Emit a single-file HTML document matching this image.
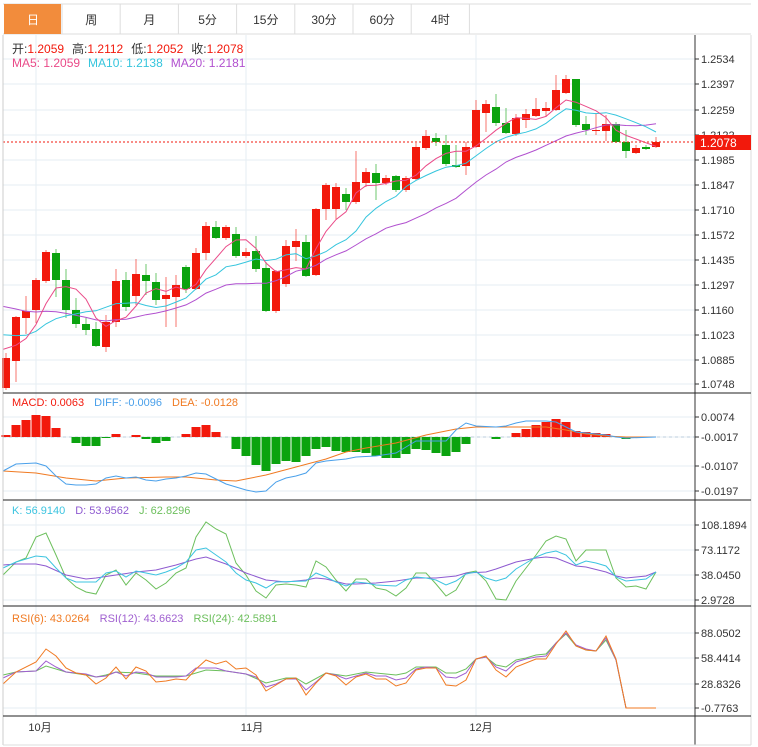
<!DOCTYPE html>
<html><head><meta charset="utf-8">
<style>
body{margin:0;background:#fff;font-family:"Liberation Sans","Noto Sans CJK SC",sans-serif;}
#c{position:absolute;left:0;top:0;}
</style></head><body>
<svg id="c" width="758" height="747" xmlns="http://www.w3.org/2000/svg" font-family="Liberation Sans, Noto Sans CJK SC, sans-serif"></svg>
<script>
const D=[[6,'r',358,388,353,390],[16,'r',317,361,316,382],[26,'r',311,318,296,334],[36,'r',280,310,278,323],[46,'r',252,281,250,283],[56,'g',253,280,249,297],[66,'g',280,310,269,318],[76,'g',310,324,298,328],[86,'g',324,330,318,335],[96,'g',329,346,322,347],[106,'r',322,347,315,352],[116,'r',281,322,269,327],[126,'g',280,307,272,311],[136,'r',274,296,259,305],[146,'g',275,281,264,295],[156,'g',282,300,273,305],[166,'r',295,299,277,327],[176,'r',285,297,275,327],[186,'g',267,289,265,293],[196,'r',253,289,248,290],[206,'r',226,253,222,260],[216,'g',227,238,221,239],[226,'r',227,238,225,240],[236,'g',234,256,227,258],[246,'r',252,256,248,258],[256,'g',251,269,236,272],[266,'g',268,311,262,312],[276,'r',271,311,270,313],[286,'r',246,284,240,287],[296,'r',241,247,229,261],[306,'g',242,276,235,277],[316,'r',209,275,208,276],[326,'r',185,209,183,220],[336,'r',187,209,183,219],[346,'g',194,202,188,210],[356,'r',182,202,151,204],[366,'r',172,183,168,187],[376,'g',173,183,164,200],[386,'r',178,183,175,185],[396,'g',176,190,175,192],[406,'r',178,190,176,192],[416,'r',147,179,143,180],[426,'r',136,148,130,150],[436,'g',138,142,133,146],[446,'g',145,164,135,166],[456,'g',165,167,145,168],[466,'r',147,166,142,175],[476,'r',110,147,100,148],[486,'r',104,113,100,132],[496,'g',107,123,94,126],[506,'g',123,133,108,134],[516,'r',118,134,114,136],[526,'r',114,120,109,128],[536,'r',109,116,98,117],[546,'r',108,111,102,117],[556,'r',90,110,75,111],[566,'r',79,93,75,94],[576,'g',79,125,79,127],[586,'g',124,130,116,135],[596,'r',130,131,113,135],[606,'r',124,131,115,141],[616,'g',124,142,122,143],[626,'g',142,151,130,158],[636,'r',148,153,145,154],[646,'g',147,149,145,150],[656,'r',142,147,137,148]];
const RED='#f2190c',GRN='#0ba30f';
const P=y=>1.2534-(y-59)/1820, Y=p=>59+(1.2534-p)*1820;
let s='';
const R=(x,y,w,h,f)=>s+=`<rect x="${x}" y="${y}" width="${w}" height="${h}" fill="${f}"/>`;
const L=(x1,y1,x2,y2,c,w=1,ex='')=>s+=`<line x1="${x1}" y1="${y1}" x2="${x2}" y2="${y2}" stroke="${c}" stroke-width="${w}" ${ex}/>`;
const T=(x,y,t,c,sz=12,a='start')=>s+=`<text x="${x}" y="${y}" fill="${c}" font-size="${sz}" text-anchor="${a}">${t}</text>`;
const PL=(pts,c)=>s+=`<polyline fill="none" stroke="${c}" stroke-width="1" points="${pts.map(p=>p[0].toFixed(1)+','+p[1].toFixed(1)).join(' ')}"/>`;
const PF=(arr,c)=>{const pts=[];for(let i=0;i<arr.length;i+=2)pts.push([arr[i],arr[i+1]]);PL(pts,c);};
// tabs
const tabs=['日','周','月','5分','15分','30分','60分','4时'];
L(3,4,751,4,'#ddd');L(3,34,751,34,'#ddd');
tabs.forEach((t,i)=>{let x=4+i*58.2;if(i==0)R(x,4,57,30,'#f28c3c');L(x+58,4,x+58,34,'#ddd');T(x+29,24,t,i==0?'#fff':'#333',12,'middle');});
// grids
const gc='#e6edf3';
[59,84,110,135,160,185,210,235,260,285,310,335,360,384].forEach(y=>L(3,y,695,y,gc));
[417,437,466,491].forEach(y=>L(3,y,695,y,gc));
[525,550,575,600].forEach(y=>L(3,y,695,y,gc));
[633,658,684,708].forEach(y=>L(3,y,695,y,gc));
[36,246,476].forEach(x=>L(x,35,x,716,gc));
// candles
const closes=[];
D.forEach(d=>{let [x,c,t,b,wt,wb]=d;let col=c=='r'?RED:GRN;L(x,wt,x,wb,col,1,'opacity="0.6"');R(x-4,t,8,Math.max(b-t,1),col);
 closes.push(P(c=='r'?t:b));});
const pad=[];for(let k=0;k<40;k++)pad.push(k<25?1.14:1.14-(k-24)*0.05/15);
const all=pad.concat(closes),o=pad.length;
const MA=n=>closes.map((_,i)=>{let a=0;for(let k=0;k<n;k++)a+=all[o+i-k];return a/n;});
const xs=D.map(d=>d[0]);
const line=(v,f,c)=>PL(v.map((val,i)=>[i==0?3:xs[i],f(val)]),c);
line(MA(20),Y,'#b150cf');line(MA(10),Y,'#35c5dd');line(MA(5),Y,'#ea4a88');
L(3,142,695,142,RED,1,'stroke-dasharray="2,2"');
// MACD histogram (pixel tops)
const H=[435,425,420,415,416,428,437,443,446,446,438,434,437,435,439,443,441,437,434,427,425,432,437,449,456,465,471,464,461,462,456,449,447,451,452,452,453,456,458,458,454,449,450,453,456,452,444,437,437,439,437,433,429,425,422,419,422,431,432,433,434,437,439,437,437,437];
L(3,437,695,437,'#bcd',1,'stroke-dasharray="3,3"');
H.forEach((y,i)=>{if(Math.abs(y-437)<1)return;R(xs[i]-4.5,Math.min(y,437),9,Math.abs(y-437),y<437?RED:GRN);});
PF([3,471,36,473,66,478,96,481,126,478,166,477,186,477,216,480,236,481,246,479,266,475,296,467,326,459,346,452,366,448,396,443,426,435,456,429,476,427,506,427,546,427,566,430,586,434,606,436,626,437,656,437],'#f07a22');
PF([3,471,16,464,36,463,46,466,56,476,66,484,76,485,86,485,96,484,106,478,116,476,126,478,136,477,146,480,156,481,166,479,176,478,186,476,196,473,206,474,216,479,226,484,236,487,246,490,256,492,266,491,276,482,286,478,296,476,306,473,316,463,326,461,336,460,346,459,356,457,376,456,396,453,406,447,416,441,446,441,456,430,466,423,476,426,496,427,506,426,516,423,526,421,546,421,556,422,566,427,576,432,586,433,596,434,606,435,616,437,626,438,656,437],'#4aa0ea');
// KDJ
PF([3,575,16,562,26,558,36,537,46,533,56,555,66,578,76,587,86,592,96,594,106,575,116,570,126,585,136,573,146,580,156,589,166,583,176,573,186,568,196,537,206,522,216,529,226,534,236,563,246,575,256,591,266,598,276,585,286,584,296,585,306,587,316,561,326,567,336,580,346,591,356,579,366,579,376,588,386,590,396,596,406,588,416,573,426,573,436,584,446,596,456,590,466,573,476,571,486,581,496,599,506,600,516,581,526,568,536,555,546,541,556,536,566,539,576,561,586,550,596,550,606,550,616,578,626,587,636,586,646,589,656,572],'#6cbf5c');
PF([3,565,16,564,36,564,46,566,66,575,86,579,96,578,116,575,136,572,156,570,176,565,196,559,206,557,226,564,246,573,266,580,286,582,306,580,316,578,326,579,346,584,356,584,376,583,396,581,416,578,436,578,456,576,466,573,486,572,496,569,516,562,536,558,546,557,556,558,576,566,586,567,606,572,616,576,626,578,646,576,656,572],'#8e5ad0');
PF([3,568,16,562,36,556,46,557,56,568,66,578,76,582,96,582,106,573,116,571,126,577,136,571,146,573,156,575,166,572,176,568,186,562,196,550,206,548,216,555,226,562,236,573,246,580,256,583,266,588,276,582,306,581,316,573,326,577,336,582,346,586,356,582,366,583,376,585,396,586,406,580,416,577,426,578,436,580,446,585,456,581,466,574,476,572,486,578,496,581,506,578,516,569,526,563,536,557,546,553,556,551,566,555,576,565,586,561,596,563,606,566,616,577,626,581,646,579,656,572],'#3cc4e0');
// RSI
PF([3,675,16,672,36,671,46,666,66,672,86,675,96,677,106,675,116,672,136,673,156,676,186,676,206,670,226,671,246,674,266,683,286,678,296,678,306,684,326,673,346,676,366,672,386,674,396,675,406,673,416,667,436,667,446,673,456,673,466,669,476,659,486,657,496,665,506,667,516,660,526,658,536,655,546,654,556,643,566,634,576,646,586,650,596,651,606,640,616,660,626,708,656,708],'#6cbf5c');
PF([3,678,16,672,36,671,46,661,56,667,66,672,86,674,96,677,106,676,116,672,126,676,136,672,146,673,156,677,176,677,186,676,196,668,216,668,226,671,246,674,256,677,266,687,276,684,286,679,296,679,306,690,316,682,326,673,336,675,346,679,356,676,366,673,376,676,386,676,396,680,406,678,416,669,426,667,436,668,446,677,456,678,466,673,476,659,486,657,496,667,506,671,516,662,526,659,536,657,546,656,556,643,566,633,576,645,586,649,596,651,606,638,616,660,626,708,656,708],'#a060d0');
PF([3,684,16,672,36,662,46,649,56,656,66,668,76,673,86,675,96,684,106,678,116,667,126,679,136,667,146,671,156,682,166,681,176,679,186,680,196,669,206,660,216,664,226,661,236,669,246,668,256,675,266,691,276,685,286,679,296,678,306,695,316,683,326,673,336,676,346,685,356,677,366,674,376,679,386,679,396,686,406,683,416,670,426,668,436,668,446,685,456,686,466,680,476,659,486,656,496,670,506,677,516,667,526,663,536,659,546,659,556,644,566,631,576,646,586,650,596,651,606,636,616,659,626,708,656,708],'#f07a22');
// frames
L(3,35,3,745,'#ccc');L(751,35,751,745,'#ddd');L(695,35,695,745,'#333');
[393,500,606].forEach(y=>L(3,y,751,y,'#222'));L(3,716,751,716,'#222');L(3,745,751,745,'#ddd');
const ax=(y,t)=>{L(695,y,699,y,'#333');T(701,y+4,t,'#333',11);};
['1.2534','1.2397','1.2259','1.2122','1.1985','1.1847','1.1710','1.1572','1.1435','1.1297','1.1160','1.1023','1.0885','1.0748'].forEach((t,i)=>ax([59,84,110,135,160,185,210,235,260,285,310,335,360,384][i],t));
R(695,135,56,15,'#f2190c');T(700,147,'1.2078','#fff',12);
[['0.0074',417],['-0.0017',437],['-0.0107',466],['-0.0197',491]].forEach(a=>ax(a[1],a[0]));
[['108.1894',525],['73.1172',550],['38.0450',575],['2.9728',600]].forEach(a=>ax(a[1],a[0]));
[['88.0502',633],['58.4414',658],['28.8326',684],['-0.7763',708]].forEach(a=>ax(a[1],a[0]));
[['10月',40],['11月',252],['12月',481]].forEach(a=>T(a[1],731,a[0],'#333',11,'middle'));
s+=`<text x="12" y="53" font-size="12"><tspan fill="#333">开:</tspan><tspan fill="${RED}">1.2059</tspan><tspan fill="#333" dx="8">高:</tspan><tspan fill="${RED}">1.2112</tspan><tspan fill="#333" dx="8">低:</tspan><tspan fill="${RED}">1.2052</tspan><tspan fill="#333" dx="8">收:</tspan><tspan fill="${RED}">1.2078</tspan></text>`;
s+=`<text x="12" y="67" font-size="12"><tspan fill="#ea4a88">MA5: 1.2059</tspan><tspan fill="#35c5dd" dx="8">MA10: 1.2138</tspan><tspan fill="#b150cf" dx="8">MA20: 1.2181</tspan></text>`;
s+=`<text x="12" y="406" font-size="11"><tspan fill="#f2190c">MACD: 0.0063</tspan><tspan fill="#4aa0ea" dx="10">DIFF: -0.0096</tspan><tspan fill="#f07a22" dx="10">DEA: -0.0128</tspan></text>`;
s+=`<text x="12" y="514" font-size="11"><tspan fill="#3cc4e0">K: 56.9140</tspan><tspan fill="#8e5ad0" dx="10">D: 53.9562</tspan><tspan fill="#6cbf5c" dx="10">J: 62.8296</tspan></text>`;
s+=`<text x="12" y="622" font-size="11"><tspan fill="#f07a22">RSI(6): 43.0264</tspan><tspan fill="#a060d0" dx="10">RSI(12): 43.6623</tspan><tspan fill="#6cbf5c" dx="10">RSI(24): 42.5891</tspan></text>`;
document.getElementById('c').innerHTML=s;
</script>
</body></html>
